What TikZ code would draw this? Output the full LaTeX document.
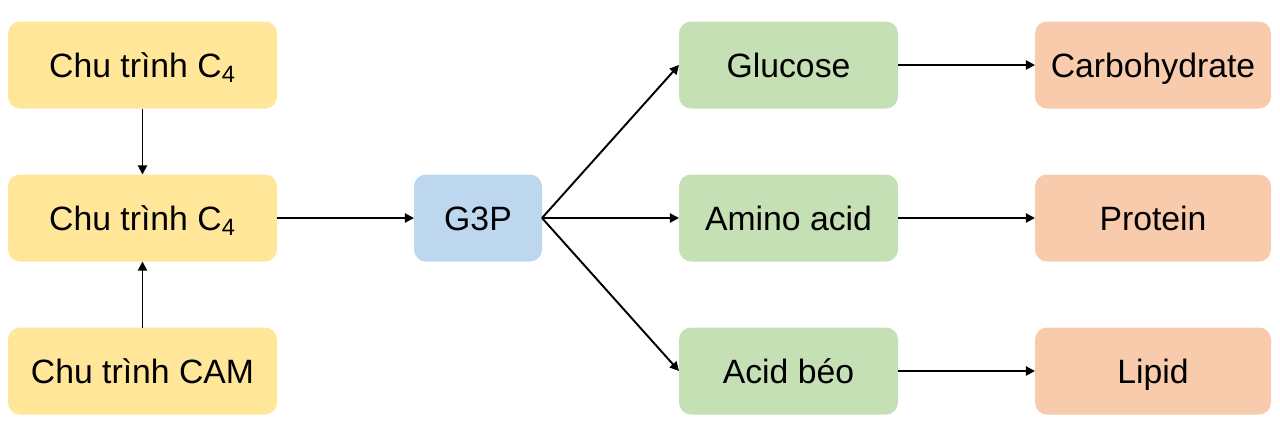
\documentclass[tikz,border=0pt]{standalone}
\usepackage{fontspec}
\setmainfont{Liberation Sans}
\usepackage{tikz}
\usetikzlibrary{positioning,arrows.meta}

\definecolor{yelfill}{HTML}{FFE699}
\definecolor{bluefill}{HTML}{BDD7EE}
\definecolor{greenfill}{HTML}{C5E0B4}
\definecolor{orangefill}{HTML}{F8CBAD}

\begin{document}
\begin{tikzpicture}[node distance={1.32cm and 2.74cm}, line width=1.1pt,
    >={Triangle[length=5.2pt,width=5.2pt]},
    box/.style = {rounded corners=0.24cm, inner sep=0pt, outer sep=0pt,
        minimum height=1.74cm, text height=13.8pt, text depth=0pt,
        font=\fontsize{19.2}{23}\selectfont},
    cyc/.style = {box, fill=yelfill, minimum width=5.38cm},
    mid/.style = {box, fill=bluefill, minimum width=2.56cm},
    sug/.style = {box, fill=greenfill, minimum width=4.38cm},
    prod/.style = {box, fill=orangefill, minimum width=4.72cm}]

    \useasboundingbox (0,0) rectangle (25.6,-8.56);

    \node[cyc] (c4a) at (2.85,-1.3) {Chu trình C\textsubscript{4}};
    \node[cyc] (c4b) [below=of c4a] {Chu trình C\textsubscript{4}};
    \node[cyc] (cam) [below=of c4b] {Chu trình CAM};
    \node[mid] (g3p) [right=of c4b] {G3P};
    \node[sug] (amino) [right=of g3p] {Amino acid};
    \node[sug] (glu) [above=of amino] {Glucose};
    \node[sug] (beo) [below=of amino] {Acid béo};
    \node[prod] (carb) [right=of glu] {Carbohydrate};
    \node[prod] (prot) [right=of amino] {Protein};
    \node[prod] (lip) [right=of beo] {Lipid};

    \draw[->] (c4a) -- (c4b);
    \draw[->] (cam) -- (c4b);
    \draw[->] (c4b) -- (g3p);
    \draw[->] (g3p.east) -- (glu.west);
    \draw[->] (g3p.east) -- (amino.west);
    \draw[->] (g3p.east) -- (beo.west);
    \draw[->] (glu) -- (carb);
    \draw[->] (amino) -- (prot);
    \draw[->] (beo) -- (lip);
\end{tikzpicture}
\end{document}
